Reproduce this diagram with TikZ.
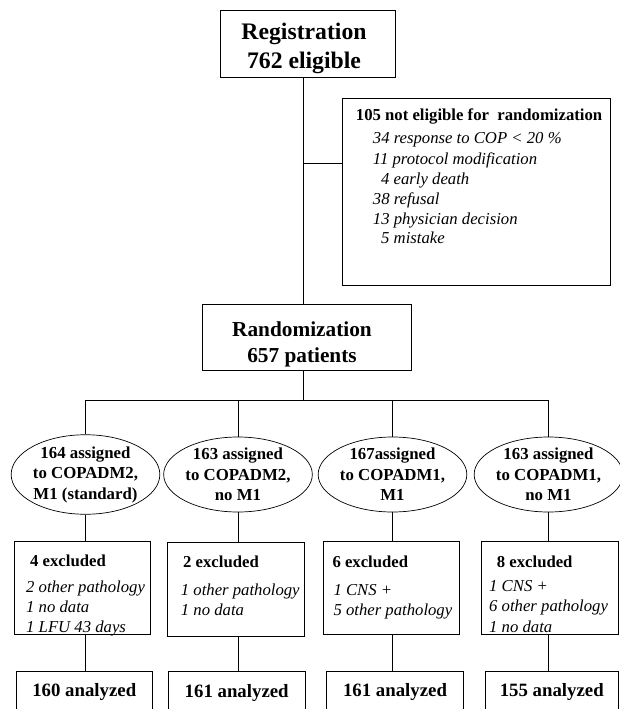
\documentclass[tikz,border=0pt]{standalone}
\usepackage{fontspec}
\setmainfont{Liberation Serif}
\usetikzlibrary{shapes.geometric}
\tikzset{
  box/.style={draw, rectangle, inner sep=0pt, line width=0.7pt, align=center},
  oval/.style={draw, ellipse, inner sep=0pt, line width=0.7pt, minimum width=140pt, minimum height=75pt, align=center, font=\fontsize{16.8}{20.5}\selectfont\bfseries},
  link/.style={line width=0.7pt},
  hd/.style={font=\fontsize{16.7}{20}\selectfont\bfseries, anchor=base west, inner sep=0pt},
  itm/.style={font=\fontsize{16.7}{20}\selectfont\itshape, anchor=base west, inner sep=0pt},
  excl/.style={box, minimum width=136.7pt, minimum height=93.3pt},
  anl/.style={box, minimum width=136.7pt, minimum height=42pt, font=\fontsize{18.8}{22}\selectfont\bfseries},
  big/.style={inner sep=0pt, align=center},
}
\begin{document}
\begin{tikzpicture}[x=1pt,y=-1pt]
\useasboundingbox (0,0) rectangle (620,709);
\clip (0,0) rectangle (620,709);

% top boxes
\node[box, minimum width=174.6pt, minimum height=67pt] (reg) at (308,44.2) {};
\node[big, font=\fontsize{23.7}{29}\selectfont\bfseries] (regt) at (304,48.5) {Registration\\762 eligible};
\node[box, minimum width=268.4pt, minimum height=187pt] (ne) at (476.5,192.2) {};
\node[hd] (net) at (355.7,120.5) {105 not eligible for\ \ randomization};
\node[itm] (ne1) at (372.7,143.5) {34 response to COP < 20 \%};
\node[itm] (ne2) at (372.7,164.5) {11 protocol modification};
\node[itm] (ne3) at (381,184.5) {4 early death};
\node[itm] (ne4) at (372.7,204.5) {38 refusal};
\node[itm] (ne5) at (372.7,224.5) {13 physician decision};
\node[itm] (ne6) at (381,243.5) {5 mistake};

\node[box, minimum width=208.7pt, minimum height=65.6pt] (rand) at (306.7,337.5) {};
\node[big, font=\fontsize{21.3}{25.7}\selectfont\bfseries] (randt) at (302,344.5) {Randomization\\657 patients};

% arms
\node[oval] (e1) at (85.5,474.5) {164 assigned\\to COPADM2,\\M1 (standard)};
\node[oval] (e2) at (238,474.5) {163 assigned\\to COPADM2,\\no M1};
\node[oval] (e3) at (392.5,474.5) {167assigned\\to COPADM1,\\M1};
\node[oval] (e4) at (548.5,474.5) {163 assigned\\to COPADM1,\\no M1};

% excluded boxes
\node[excl] (x1) at (82.3,587.7) {};
\node[excl] (x2) at (235.8,589.3) {};
\node[excl] (x3) at (391.3,587.7) {};
\node[excl] (x4) at (549.7,587.7) {};

\node[hd] (x1t) at (30,566.5) {4 excluded};
\node[itm] (x1a) at (26,592.5) {2 other pathology};
\node[itm] (x1b) at (26,612.5) {1 no data};
\node[itm] (x1c) at (26,632) {1 LFU 43 days};

\node[hd] (x2t) at (183,567.5) {2 excluded};
\node[itm] (x2a) at (180.7,595.5) {1 other pathology};
\node[itm] (x2b) at (180.7,615.5) {1 no data};

\node[hd] (x3t) at (332.3,567.5) {6 excluded};
\node[itm] (x3a) at (333.3,595) {1 CNS +};
\node[itm] (x3b) at (333.3,615) {5 other pathology};

\node[hd] (x4t) at (496.7,567.5) {8 excluded};
\node[itm] (x4a) at (489,591.5) {1 CNS +};
\node[itm] (x4b) at (489,611.5) {6 other pathology};
\node[itm] (x4c) at (489,632) {1 no data};

% analyzed boxes (cut at the bottom edge)
\node[anl] (a1) at (84.3,692) {160 analyzed};
\node[anl] (a2) at (236.7,692.6) {161 analyzed};
\node[anl] (a3) at (395,692) {161 analyzed};
\node[anl, minimum width=133.5pt] (a4) at (551.75,692) {155 analyzed};

% connectors
\coordinate (j1) at (303.3,163.3);
\coordinate (j2) at (303.3,400);
\draw[link] (reg.south -| j1) -- (rand.north -| j1);
\draw[link] (j1) -- (j1 -| ne.west);
\draw[link] (rand.south -| j2) -- (j2);
\draw[link] (e1.north) -- (e1.north |- j2) -- (e4.north |- j2) -- (e4.north);
\draw[link] (e2.north) -- (e2.north |- j2);
\draw[link] (e3.north) -- (e3.north |- j2);

\draw[link] (e1.south) -- (e1.south |- x1.north);
\draw[link] (e2.south) -- (e2.south |- x2.north);
\draw[link] (e3.south) -- (e3.south |- x3.north);
\draw[link] (e4.south) -- (e4.south |- x4.north);

\draw[link] (x1.south -| e1.south) -- (a1.north -| e1.south);
\draw[link] (x2.south -| e2.south) -- (a2.north -| e2.south);
\draw[link] (x3.south -| e3.south) -- (a3.north -| e3.south);
\draw[link] (x4.south -| e4.south) -- (a4.north -| e4.south);
\end{tikzpicture}
\end{document}
